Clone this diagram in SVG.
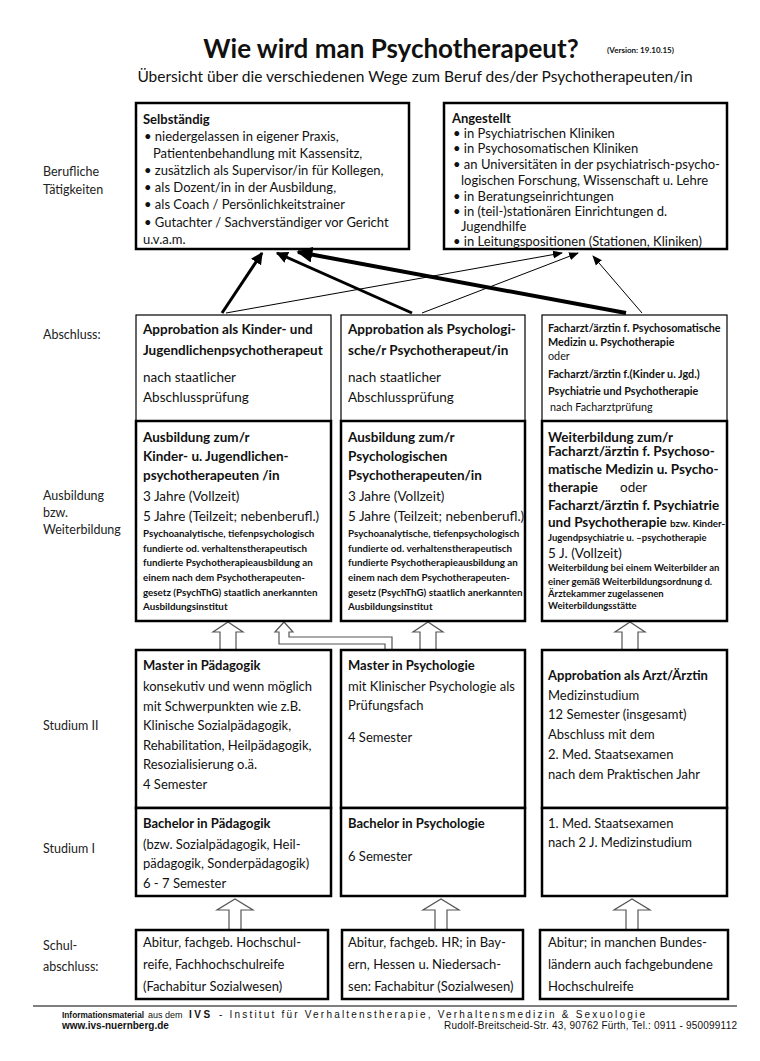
<svg xmlns="http://www.w3.org/2000/svg" width="760" height="1061" viewBox="0 0 760 1061">
<style>
text{font-family:Lato,"Open Sans","Liberation Sans",sans-serif;fill:#111}
.ti{font-size:26px;font-weight:bold}
.ver{font-size:8px;font-weight:bold}
.sub{font-size:15.5px}
.lab{font-size:12.5px;fill:#222}
.n{font-size:13px}
.nb{font-size:13px;font-weight:bold}
.h{font-size:13.5px;font-weight:bold}
.m{font-size:13.5px}
.sa{font-size:10.8px;font-weight:bold}
.sb{font-size:9.8px;font-weight:bold}
.sc{font-size:9.5px;font-weight:bold}
.sn{font-size:10.8px}
.box{fill:#fff;stroke:#000;stroke-width:2.5}
.thin{fill:#fff;stroke:#000;stroke-width:1.2}
.ha{fill:#fff;stroke:#555;stroke-width:1.2}
.ft{font-family:"Liberation Sans",Arial,sans-serif;font-size:10px}
</style>
<defs>
<marker id="ah" viewBox="0 0 10 10" refX="9" refY="5" markerWidth="4" markerHeight="4" orient="auto" markerUnits="strokeWidth"><path d="M0,0 L10,5 L0,10 z" fill="#000"/></marker>
<marker id="ahs" viewBox="0 0 10 10" refX="9" refY="5" markerWidth="10" markerHeight="10" orient="auto" markerUnits="strokeWidth"><path d="M0,1 L10,5 L0,9 z" fill="#000"/></marker>
<clipPath id="c3"><rect x="542" y="421" width="186" height="200"/></clipPath>
</defs>
<rect width="760" height="1061" fill="#fff"/>

<g id="title">
<text class="ti" x="391" y="58" text-anchor="middle">Wie wird man Psychotherapeut?</text>
<text class="ver" x="607" y="53">(Version: 19.10.15)</text>
<text class="sub" x="415" y="82" text-anchor="middle">Übersicht über die verschiedenen Wege zum Beruf des/der Psychotherapeuten/in</text>
</g>

<g id="row-labels">
<text class="lab" x="43" y="176">Berufliche</text>
<text class="lab" x="43" y="194">Tätigkeiten</text>
<text class="lab" x="43" y="339">Abschluss:</text>
<text class="lab" x="43" y="500">Ausbildung</text>
<text class="lab" x="43" y="517">bzw.</text>
<text class="lab" x="43" y="534">Weiterbildung</text>
<text class="lab" x="43" y="730">Studium II</text>
<text class="lab" x="43" y="853">Studium I</text>
<text class="lab" x="43" y="950">Schul-</text>
<text class="lab" x="43" y="971">abschluss:</text>
</g>

<g id="selbstaendig">
<rect class="box" x="136" y="103" width="273" height="146"/>
<text class="nb" x="143" y="124">Selbständig</text>
<text class="n" x="144" y="141">• niedergelassen in eigener Praxis,</text>
<text class="n" x="153" y="158">Patientenbehandlung mit Kassensitz,</text>
<text class="n" x="144" y="175">• zusätzlich als Supervisor/in für Kollegen,</text>
<text class="n" x="144" y="192">• als Dozent/in in der Ausbildung,</text>
<text class="n" x="144" y="209">• als Coach / Persönlichkeitstrainer</text>
<text class="n" x="144" y="227">• Gutachter / Sachverständiger vor Gericht</text>
<text class="n" x="143" y="244">u.v.a.m.</text>
</g>

<g id="angestellt">
<rect class="box" x="444" y="103" width="283" height="146"/>
<text class="nb" x="452" y="123">Angestellt</text>
<text class="n" x="453" y="138">• in Psychiatrischen Kliniken</text>
<text class="n" x="453" y="153">• in Psychosomatischen Kliniken</text>
<text class="n" x="453" y="169">• an Universitäten in der psychiatrisch-psycho-</text>
<text class="n" x="461" y="185">logischen Forschung, Wissenschaft u. Lehre</text>
<text class="n" x="453" y="201">• in Beratungseinrichtungen</text>
<text class="n" x="453" y="216">• in (teil-)stationären Einrichtungen d.</text>
<text class="n" x="461" y="231">Jugendhilfe</text>
<text class="n" x="453" y="246">• in Leitungspositionen (Stationen, Kliniken)</text>
</g>

<g id="connectors" stroke="#000" fill="none">
<line x1="226" y1="313" x2="562" y2="253" stroke-width="1" marker-end="url(#ahs)"/>
<line x1="422" y1="313" x2="578" y2="253" stroke-width="1" marker-end="url(#ahs)"/>
<line x1="642" y1="313" x2="593" y2="256" stroke-width="1" marker-end="url(#ahs)"/>
<line x1="222" y1="313" x2="262" y2="253" stroke-width="3" marker-end="url(#ah)"/>
<line x1="412" y1="313" x2="277" y2="253" stroke-width="3" marker-end="url(#ah)"/>
<line x1="626" y1="313" x2="298" y2="252" stroke-width="4" marker-end="url(#ah)"/>
<polyline class="ha" points="220,650 220,632 213,632 228,622 243,632 236,632 236,650"/>
<polyline class="ha" points="385,650 385,644 279,644 279,632 275,632 284,622 293,632 289,632 289,637 392,637 392,650"/>
<polyline class="ha" points="420,650 420,632 413,632 428,622 443,632 436,632 436,650"/>
<polyline class="ha" points="622,650 622,632 615,632 630,622 645,632 638,632 638,650"/>
<polyline class="ha" points="229,930 229,910 217,910 235,899 253,910 241,910 241,930"/>
<polyline class="ha" points="435,930 435,910 423,910 441,899 459,910 447,910 447,930"/>
<polyline class="ha" points="626,930 626,910 614,910 632,899 650,910 638,910 638,930"/>
</g>

<g id="abschluss-kjp">
<rect class="thin" x="136" y="315" width="195" height="106"/>
<text class="h" x="143" y="334">Approbation als Kinder- und</text>
<text class="h" x="143" y="355">Jugendlichenpsychotherapeut</text>
<text class="m" x="143" y="382">nach staatlicher</text>
<text class="m" x="143" y="402">Abschlussprüfung</text>
</g>
<g id="abschluss-pp">
<rect class="thin" x="341" y="315" width="184" height="106"/>
<text class="h" x="348" y="334">Approbation als Psychologi-</text>
<text class="h" x="348" y="355">sche/r Psychotherapeut/in</text>
<text class="m" x="348" y="382">nach staatlicher</text>
<text class="m" x="348" y="402">Abschlussprüfung</text>
</g>
<g id="abschluss-fa">
<rect class="thin" x="542" y="315" width="185" height="106"/>
<text class="sa" x="548" y="332">Facharzt/ärztin f. Psychosomatische</text>
<text class="sa" x="548" y="346">Medizin u. Psychotherapie</text>
<text class="sn" x="548" y="360">oder</text>
<text class="sa" x="548" y="378">Facharzt/ärztin f.(Kinder u. Jgd.)</text>
<text class="sa" x="548" y="395">Psychiatrie und Psychotherapie</text>
<text class="sn" x="550" y="411">nach Facharztprüfung</text>
</g>

<g id="ausbildung-kjp">
<rect class="box" x="136" y="421" width="195" height="200"/>
<text class="h" x="143" y="442">Ausbildung zum/r</text>
<text class="h" x="143" y="461">Kinder- u. Jugendlichen-</text>
<text class="h" x="143" y="480">psychotherapeuten /in</text>
<text class="m" x="143" y="501">3 Jahre (Vollzeit)</text>
<text class="m" x="143" y="521">5 Jahre (Teilzeit; nebenberufl.)</text>
<text class="sb" x="143" y="537">Psychoanalytische, tiefenpsychologisch</text>
<text class="sb" x="143" y="552">fundierte od. verhaltenstherapeutisch</text>
<text class="sb" x="143" y="566">fundierte Psychotherapieausbildung an</text>
<text class="sb" x="143" y="581">einem nach dem Psychotherapeuten-</text>
<text class="sb" x="143" y="596">gesetz (PsychThG) staatlich anerkannten</text>
<text class="sb" x="143" y="610">Ausbildungsinstitut</text>
</g>
<g id="ausbildung-pp">
<rect class="box" x="341" y="421" width="184" height="200"/>
<text class="h" x="348" y="442">Ausbildung zum/r</text>
<text class="h" x="348" y="461">Psychologischen</text>
<text class="h" x="348" y="480">Psychotherapeuten/in</text>
<text class="m" x="348" y="501">3 Jahre (Vollzeit)</text>
<text class="m" x="348" y="521">5 Jahre (Teilzeit; nebenberufl.)</text>
<text class="sb" x="348" y="537">Psychoanalytische, tiefenpsychologisch</text>
<text class="sb" x="348" y="552">fundierte od. verhaltenstherapeutisch</text>
<text class="sb" x="348" y="566">fundierte Psychotherapieausbildung an</text>
<text class="sb" x="348" y="581">einem nach dem Psychotherapeuten-</text>
<text class="sb" x="348" y="596">gesetz (PsychThG) staatlich anerkannten</text>
<text class="sb" x="348" y="610">Ausbildungsinstitut</text>
</g>
<g id="weiterbildung-fa">
<rect class="box" x="542" y="421" width="185" height="200"/>
<text class="h" x="548" y="442">Weiterbildung zum/r</text>
<text class="h" x="548" y="456">Facharzt/ärztin f. Psychoso-</text>
<text class="h" x="548" y="474">matische Medizin u. Psycho-</text>
<text class="h" x="548" y="492">therapie<tspan class="m" font-weight="normal" x="620">oder</tspan></text>
<text class="h" x="548" y="510">Facharzt/ärztin f. Psychiatrie</text>
<text class="h" x="548" y="527" clip-path="url(#c3)">und Psychotherapie <tspan class="sb">bzw. Kinder- u</tspan></text>
<text class="sc" x="548" y="541">Jugendpsychiatrie u. –psychotherapie</text>
<text class="m" x="548" y="558">5 J. (Vollzeit)</text>
<text class="sc" x="548" y="571">Weiterbildung bei einem Weiterbilder an</text>
<text class="sc" x="548" y="585">einer gemäß Weiterbildungsordnung d.</text>
<text class="sc" x="548" y="597">Ärztekammer zugelassenen</text>
<text class="sc" x="548" y="609">Weiterbildungsstätte</text>
</g>

<g id="master-paed">
<rect class="box" x="136" y="650" width="195" height="158"/>
<text class="nb" x="143" y="670">Master in Pädagogik</text>
<text class="n" x="143" y="691">konsekutiv und wenn möglich</text>
<text class="n" x="143" y="711">mit Schwerpunkten wie z.B.</text>
<text class="n" x="143" y="730">Klinische Sozialpädagogik,</text>
<text class="n" x="143" y="750">Rehabilitation, Heilpädagogik,</text>
<text class="n" x="143" y="769">Resozialisierung o.ä.</text>
<text class="n" x="143" y="789">4 Semester</text>
</g>
<g id="master-psych">
<rect class="box" x="341" y="650" width="184" height="158"/>
<text class="nb" x="348" y="670">Master in Psychologie</text>
<text class="n" x="348" y="691">mit Klinischer Psychologie als</text>
<text class="n" x="348" y="710">Prüfungsfach</text>
<text class="n" x="348" y="742">4 Semester</text>
</g>
<g id="approbation-arzt">
<rect class="box" x="542" y="650" width="185" height="158"/>
<text class="nb" x="548" y="680">Approbation als Arzt/Ärztin</text>
<text class="n" x="548" y="700">Medizinstudium</text>
<text class="n" x="548" y="719">12 Semester (insgesamt)</text>
<text class="n" x="548" y="739">Abschluss mit dem</text>
<text class="n" x="548" y="759">2. Med. Staatsexamen</text>
<text class="n" x="548" y="779">nach dem Praktischen Jahr</text>
</g>

<g id="bachelor-paed">
<rect class="box" x="136" y="808" width="195" height="88"/>
<text class="nb" x="143" y="828">Bachelor in Pädagogik</text>
<text class="n" x="143" y="849">(bzw.  Sozialpädagogik, Heil-</text>
<text class="n" x="143" y="868">pädagogik, Sonderpädagogik)</text>
<text class="n" x="143" y="888">6 - 7 Semester</text>
</g>
<g id="bachelor-psych">
<rect class="box" x="341" y="808" width="184" height="88"/>
<text class="nb" x="348" y="828">Bachelor in Psychologie</text>
<text class="n" x="348" y="861">6 Semester</text>
</g>
<g id="medizin-1">
<rect class="box" x="542" y="808" width="185" height="88"/>
<text class="n" x="548" y="828">1. Med. Staatsexamen</text>
<text class="n" x="548" y="847">nach 2 J. Medizinstudium</text>
</g>

<g id="abitur-paed">
<rect class="box" x="136" y="930" width="192" height="69"/>
<text class="n" x="143" y="947">Abitur, fachgeb. Hochschul-</text>
<text class="n" x="143" y="969">reife, Fachhochschulreife</text>
<text class="n" x="143" y="991">(Fachabitur Sozialwesen)</text>
</g>
<g id="abitur-psych">
<rect class="box" x="342" y="930" width="181" height="69"/>
<text class="n" x="348" y="947">Abitur, fachgeb. HR; in Bay-</text>
<text class="n" x="348" y="969">ern, Hessen u. Niedersach-</text>
<text class="n" x="348" y="991">sen: Fachabitur (Sozialwesen)</text>
</g>
<g id="abitur-med">
<rect class="box" x="540" y="930" width="188" height="69"/>
<text class="n" x="548" y="947">Abitur; in manchen Bundes-</text>
<text class="n" x="548" y="969">ländern auch fachgebundene</text>
<text class="n" x="548" y="991">Hochschulreife</text>
</g>

<g id="footer">
<line x1="33" y1="1006" x2="737" y2="1006" stroke="#000" stroke-width="1.2"/>
<text class="ft" x="62" y="1018"><tspan font-weight="bold" font-size="8.3">Informationsmaterial</tspan><tspan x="148" font-size="9">aus dem</tspan><tspan x="189" font-weight="bold" letter-spacing="2.5">IVS</tspan><tspan x="219" letter-spacing="2.2">- Institut für Verhaltenstherapie, Verhaltensmedizin &amp; Sexuologie</tspan></text>
<text class="ft" x="62" y="1029" font-weight="bold">www.ivs-nuernberg.de</text>
<text class="ft" x="444" y="1029" textLength="293" lengthAdjust="spacing">Rudolf-Breitscheid-Str. 43, 90762 Fürth, Tel.: 0911 - 950099112</text>
</g>
</svg>
